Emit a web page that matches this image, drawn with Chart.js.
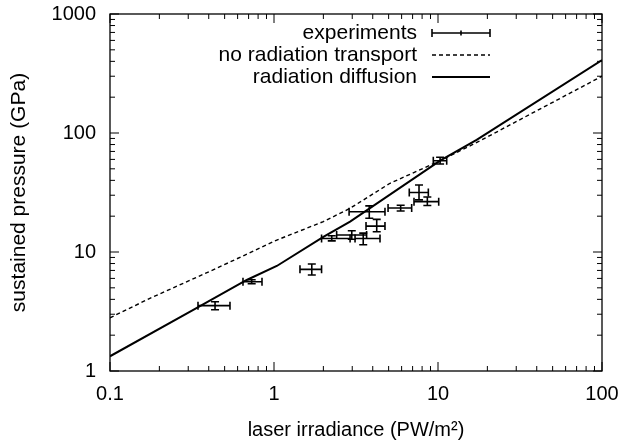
<!DOCTYPE html>
<html>
<head>
<meta charset="utf-8">
<script src="https://cdn.jsdelivr.net/npm/chart.js@4.4.1/dist/chart.umd.min.js"></script>
<style>
  html, body { margin: 0; padding: 0; background: #fff; }
</style>
</head>
<body>
<canvas id="pressureChart" width="621" height="443"></canvas>
<script>
// 1. Data (log-log axes)
const xTicks = [0.1, 1, 10, 100];
const xTickLabels = ['0.1', '1', '10', '100'];
const yTicks = [1, 10, 100, 1000];
const yTickLabels = ['1', '10', '100', '1000'];

// experiments with x / y error bars
const expX     = [0.437, 0.731, 1.70, 2.25, 2.98, 3.50, 3.81, 4.23, 5.92, 7.66, 8.61, 10.3];
const expY     = [3.54, 5.63, 7.15, 13.0, 13.9, 13.0, 21.8, 16.5, 23.4, 31.6, 26.5, 58.5];
const expXLow  = [0.344, 0.647, 1.44, 1.95, 2.41, 3.12, 2.87, 3.64, 4.96, 6.68, 7.14, 9.36];
const expXHigh = [0.539, 0.845, 1.95, 2.91, 3.67, 4.43, 4.75, 4.75, 6.91, 8.73, 10.1, 11.3];
const expYLow  = [3.27, 5.41, 6.41, 12.4, 12.8, 11.5, 19.2, 14.8, 22.1, 27.4, 24.6, 54.9];
const expYHigh = [3.82, 5.85, 7.93, 13.7, 15.1, 14.4, 24.4, 18.8, 24.7, 36.6, 29.0, 62.5];

// no radiation transport (dashed)
const noTransX = [0.1, 0.175, 0.447, 1.04, 2.0, 2.91, 5.1, 10.3, 17.6, 100];
const noTransY = [2.8, 4.08, 7.3, 12.6, 18.0, 23.3, 37.8, 58.5, 84.5, 300];

// radiation diffusion (solid)
const diffX = [0.1, 0.322, 0.682, 1.04, 2.0, 2.91, 10.3, 17.2, 100];
const diffY = [1.33, 3.26, 5.82, 7.63, 13.4, 18.0, 58.5, 87.4, 410];

const FONT = '"Liberation Sans", Arial, Helvetica, sans-serif';
const toPoints = (xs, ys) => xs.map((v, i) => ({ x: v, y: ys[i] }));

// 2. Plugin: gnuplot style frame, inward ticks, error bars and legend
const gnuplotLook = {
  id: 'gnuplotLook',
  afterDatasetsDraw(chart) {
    const { ctx, chartArea: a, scales: { x, y } } = chart;
    ctx.save();
    ctx.strokeStyle = '#000';
    ctx.fillStyle = '#000';

    // error bars
    const cap = 4;
    ctx.lineWidth = 1.6;
    expX.forEach((v, i) => {
      const px = x.getPixelForValue(v), py = y.getPixelForValue(expY[i]);
      const x0 = x.getPixelForValue(expXLow[i]), x1 = x.getPixelForValue(expXHigh[i]);
      const y0 = y.getPixelForValue(expYLow[i]), y1 = y.getPixelForValue(expYHigh[i]);
      ctx.beginPath();
      ctx.moveTo(x0, py); ctx.lineTo(x1, py);
      ctx.moveTo(x0, py - cap); ctx.lineTo(x0, py + cap);
      ctx.moveTo(x1, py - cap); ctx.lineTo(x1, py + cap);
      ctx.moveTo(px, y0); ctx.lineTo(px, y1);
      ctx.moveTo(px - cap, y0); ctx.lineTo(px + cap, y0);
      ctx.moveTo(px - cap, y1); ctx.lineTo(px + cap, y1);
      ctx.stroke();
    });

    // frame
    ctx.lineWidth = 1.3;
    ctx.strokeRect(a.left, a.top, a.right - a.left, a.bottom - a.top);

    // ticks on all four sides, pointing in
    const major = 9, minor = 5;
    ctx.lineWidth = 1;
    ctx.beginPath();
    const logTicks = (lo, hi) => {
      const out = [];
      for (let d = Math.log10(lo); d < Math.log10(hi) - 1e-9; d++) {
        for (let k = 1; k <= 9; k++) out.push({ v: k * Math.pow(10, d), len: k === 1 ? major : minor });
      }
      out.push({ v: hi, len: major });
      return out;
    };
    logTicks(x.min, x.max).forEach(t => {
      const p = x.getPixelForValue(t.v);
      ctx.moveTo(p, a.bottom); ctx.lineTo(p, a.bottom - t.len);
      ctx.moveTo(p, a.top); ctx.lineTo(p, a.top + t.len);
    });
    logTicks(y.min, y.max).forEach(t => {
      const p = y.getPixelForValue(t.v);
      ctx.moveTo(a.left, p); ctx.lineTo(a.left + t.len, p);
      ctx.moveTo(a.right, p); ctx.lineTo(a.right - t.len, p);
    });
    ctx.stroke();

    // legend (text right aligned, sample to the right)
    const textRight = a.right - 185, s0 = a.right - 170, s1 = a.right - 112;
    ctx.font = '21px ' + FONT;
    ctx.textAlign = 'right';
    ctx.textBaseline = 'middle';
    chart.data.datasets.forEach((ds, i) => {
      const ry = a.top + 19 + i * 22;
      ctx.fillText(ds.label, textRight, ry);
      ctx.beginPath();
      if (i === 0) {
        ctx.lineWidth = 1.6;
        ctx.setLineDash([]);
        ctx.moveTo(s0, ry); ctx.lineTo(s1, ry);
        ctx.moveTo(s0, ry - cap); ctx.lineTo(s0, ry + cap);
        ctx.moveTo(s1, ry - cap); ctx.lineTo(s1, ry + cap);
        const m = (s0 + s1) / 2;
        ctx.moveTo(m, ry - 2.5); ctx.lineTo(m, ry + 2.5);
      } else {
        ctx.lineWidth = ds.borderWidth;
        ctx.setLineDash(ds.borderDash || []);
        ctx.moveTo(s0, ry); ctx.lineTo(s1, ry);
      }
      ctx.stroke();
    });
    ctx.setLineDash([]);
    ctx.restore();
  }
};

// 3. Chart
const ctx = document.getElementById('pressureChart').getContext('2d');
new Chart(ctx, {
  type: 'scatter',
  data: {
    datasets: [
      {
        label: 'experiments',
        data: toPoints(expX, expY),
        pointRadius: 0,
        showLine: false
      },
      {
        label: 'no radiation transport',
        data: toPoints(noTransX, noTransY),
        showLine: true,
        borderColor: '#000',
        borderWidth: 1.4,
        borderDash: [4, 3],
        pointRadius: 0
      },
      {
        label: 'radiation diffusion',
        data: toPoints(diffX, diffY),
        showLine: true,
        borderColor: '#000',
        borderWidth: 2,
        pointRadius: 0
      }
    ]
  },
  options: {
    responsive: false,
    animation: false,
    layout: { padding: { left: 0, right: 19, top: 14, bottom: 0 } },
    plugins: { legend: { display: false }, tooltip: { enabled: false } },
    scales: {
      x: {
        type: 'logarithmic',
        min: 0.1,
        max: 100,
        afterBuildTicks: s => { s.ticks = xTicks.map(v => ({ value: v })); },
        afterFit: s => { s.height = 72; s.paddingLeft = 0; s.paddingRight = 0; },
        grid: { display: false, drawTicks: false },
        border: { display: false },
        ticks: {
          autoSkip: false,
          maxRotation: 0,
          padding: 11,
          color: '#000',
          font: { family: FONT, size: 20 },
          callback: (v) => xTickLabels[xTicks.indexOf(v)]
        },
        title: {
          display: true,
          text: 'laser irradiance (PW/m²)',
          color: '#000',
          font: { family: FONT, size: 20 },
          padding: { top: 0, bottom: 1 }
        }
      },
      y: {
        type: 'logarithmic',
        min: 1,
        max: 1000,
        afterBuildTicks: s => { s.ticks = yTicks.map(v => ({ value: v })); },
        afterFit: s => { s.width = 110; s.paddingTop = 0; s.paddingBottom = 0; },
        grid: { display: false, drawTicks: false },
        border: { display: false },
        ticks: {
          autoSkip: false,
          padding: 14,
          color: '#000',
          font: { family: FONT, size: 20 },
          callback: (v) => yTickLabels[yTicks.indexOf(v)]
        },
        title: {
          display: true,
          text: 'sustained pressure (GPa)',
          color: '#000',
          font: { family: FONT, size: 21 },
          padding: { top: 7, bottom: 0 }
        }
      }
    }
  },
  plugins: [gnuplotLook]
});
</script>
</body>
</html>
